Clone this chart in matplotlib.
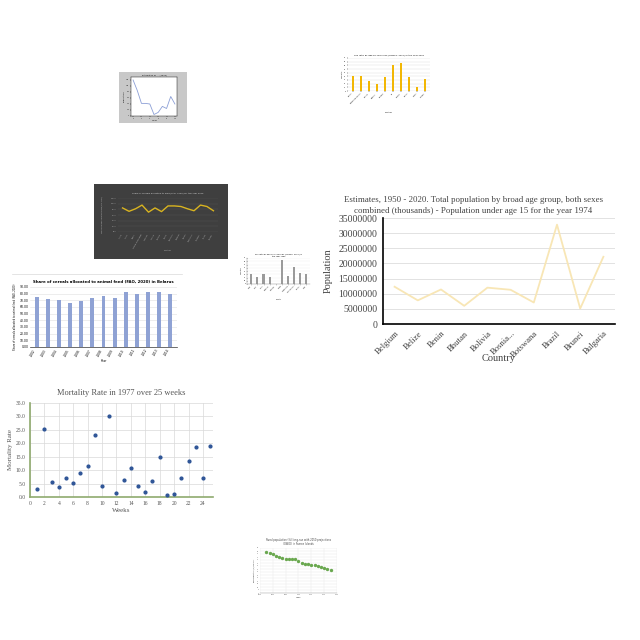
import numpy as np
import matplotlib
matplotlib.use("Agg")
import matplotlib.pyplot as plt
from matplotlib.patches import Rectangle

# chart 1 - gray box, small line
est_vals = [120, 85, 42, 42, 40, 5, 12, 32, 25, 65, 40]

# chart 2 - yellow bars (sex ratio)
sex_countries = ["Eritrea", "Equatorial Guinea", "Estonia", "Eswatini", "Ethiopia",
                 "Fiji", "Finland", "France", "Gabon", "Gambia"]
sex_vals = [42, 42, 28, 18, 37, 70, 76, 37, 11, 34]

# chart 3 - dark line chart
dark_cats = ["Albania", "Algeria", "Angola", "Antigua and Barbuda", "Argentina", "Armenia",
             "Australia", "Austria", "Azerbaijan", "Bahamas", "Bahrain", "Bangladesh",
             "Barbados", "Belarus", "Belgium"]
dark_vals = [85, 73, 82, 95, 70, 85, 72, 92, 92, 90, 82, 75, 95, 90, 75]

# chart 4 - population under 15, 1974
pop_countries = ["Belgium", "Belize", "Benin", "Bhutan", "Bolivia", "Bosnia...",
                 "Botswana", "Brazil", "Brunei", "Bulgaria"]
pop_vals = [12300000, 7800000, 11400000, 6000000, 12000000, 11300000,
            7100000, 32800000, 5100000, 22200000]

# chart 5 - Belarus cereals
bel_years = [str(y) for y in range(2002, 2015)]
bel_vals = [74.5, 72.5, 70.5, 66.5, 68.5, 74.0, 76.5, 74.0, 82.0, 79.5, 82.0, 83.0, 79.5]

# chart 6 - small gray bars
gray_countries = ["Chad", "Chile", "China", "Colombia", "Comoros", "Congo",
                  "Costa Rica", "Cote d'Ivoire", "Croatia", "Cuba"]
gray_vals = [30, 23, 30, 21, 0, 73, 24, 52, 33, 31]

# chart 7 - mortality rate
weeks = list(range(1, 26))
mort = [2.9, 25.2, 5.7, 3.9, 6.9, 5.1, 9.0, 11.6, 23.1, 4.1, 30.0, 1.5, 6.4,
        10.9, 4.2, 1.9, 5.9, 14.9, 0.9, 1.1, 7.0, 13.5, 18.7, 7.0, 19.0]

# chart 8 - rural population Faeroe Islands
rural_years = list(range(1950, 2051, 5))
rural_vals = [68, 67, 65, 62, 60, 58, 57, 56, 56, 57, 53, 50, 49, 48, 47, 46, 45, 44, 42, 40, 38]

fig = plt.figure(figsize=(6.4, 6.4), dpi=100)


def box(x0, y0, x1, y1):
    # pixel box (top-left origin) -> figure fraction
    return [x0 / 640, 1 - y1 / 640, (x1 - x0) / 640, (y1 - y0) / 640]


def bg(x0, y0, x1, y1, color):
    fig.patches.append(Rectangle((x0 / 640, 1 - y1 / 640), (x1 - x0) / 640, (y1 - y0) / 640,
                                 transform=fig.transFigure, facecolor=color, edgecolor="none",
                                 zorder=-5))


tiny = 1.6
serif = "Liberation Serif"

# ---- chart 1
bg(119, 72, 187, 123, "#c8c8c8")
ax = fig.add_axes(box(131, 77, 177, 116))
ax.plot(range(len(est_vals)), est_vals, color="#8c9fd6", lw=0.6)
ax.set_xlim(-0.5, len(est_vals) - 0.5)
ax.set_ylim(0, 130)
ax.set_title("Estimates of ... (1976)", fontsize=tiny, pad=1)
ax.set_xlabel("Year", fontsize=tiny, labelpad=1)
ax.set_ylabel("Population", fontsize=tiny, labelpad=1)
ax.tick_params(labelsize=1, length=1, width=0.3, pad=0.5)
for s in ax.spines.values():
    s.set_linewidth(0.3)

# ---- chart 2
ax = fig.add_axes(box(348, 58, 430, 91))
ax.bar(range(len(sex_vals)), sex_vals, width=0.3, color="#f2b705")
ax.set_ylim(0, 90)
ax.set_xlim(-0.6, len(sex_vals) - 0.4)
ax.set_xticks(range(len(sex_vals)))
ax.set_xticklabels(sex_countries, rotation=45, ha="right", fontsize=1.2)
ax.set_yticks(range(0, 91, 10))
ax.tick_params(labelsize=1.2, length=0.8, width=0.3, pad=0.5)
ax.grid(axis="y", color="#dddddd", lw=0.3)
ax.set_axisbelow(True)
ax.set_title("Sex ratio by age 80 year olds (UNWPP, 2017) in the year 2010", fontsize=tiny, pad=2)
ax.set_xlabel("Countries", fontsize=1.2, labelpad=6)
ax.set_ylabel("Sex ratio", fontsize=1.2, labelpad=1)
for s in ax.spines.values():
    s.set_visible(False)

# ---- chart 3
bg(94, 184, 228, 259, "#3f3f3f")
ax = fig.add_axes(box(118, 198, 218, 232))
ax.set_facecolor("#3f3f3f")
ax.plot(range(len(dark_vals)), dark_vals, color="#d9b420", lw=1.0)
ax.set_ylim(0, 120)
ax.set_yticks(range(0, 121, 20))
ax.set_yticklabels([f"{v:.2f}" for v in range(0, 121, 20)])
ax.set_xticks(range(len(dark_vals)))
ax.set_xticklabels(dark_cats, rotation=60, ha="right")
ax.tick_params(labelsize=1.2, colors="#bbbbbb", length=0, pad=1)
ax.grid(axis="y", color="#555555", lw=0.3)
ax.set_title("Share of cereals allocated to food (FAO, 2020) for the Year 2006",
             fontsize=tiny, color="#dddddd", pad=3)
ax.set_xlabel("Countries", fontsize=1.2, color="#bbbbbb", labelpad=1)
ax.set_ylabel("Share of cereals allocated to food (FAO, 2020)", fontsize=1.2,
              color="#bbbbbb", labelpad=6)
for s in ax.spines.values():
    s.set_visible(False)

# ---- chart 4
ax = fig.add_axes(box(383, 218, 615, 324))
ax.plot(range(len(pop_vals)), pop_vals, color="#f8e6b5", lw=1.3)
ax.set_xlim(-0.5, len(pop_vals) - 0.5)
ax.set_ylim(0, 35000000)
ax.set_yticks(range(0, 35000001, 5000000))
ax.set_yticklabels([str(v) for v in range(0, 35000001, 5000000)], fontfamily=serif)
ax.set_xticks(range(len(pop_vals)))
ax.set_xticklabels(pop_countries, rotation=45, ha="right", rotation_mode="anchor",
                   fontfamily=serif)
ax.tick_params(axis="y", labelsize=7, length=0, pad=4, colors="#444444")
ax.tick_params(axis="x", labelsize=6.2, length=0, pad=4, colors="#444444")
ax.grid(axis="y", color="#dddddd", lw=0.6)
ax.set_axisbelow(True)
for s in ["top", "right"]:
    ax.spines[s].set_visible(False)
for s in ["left", "bottom"]:
    ax.spines[s].set_linewidth(1.2)
ax.text(0.39, 1.03, "Estimates, 1950 - 2020. Total population by broad age group, both sexes\n"
        "combined (thousands) - Population under age 15 for the year 1974",
        transform=ax.transAxes, ha="center", va="bottom",
        fontsize=6.4, fontfamily=serif, color="#444444", linespacing=1.5)
ax.set_xlabel("Country", fontsize=7.5, fontfamily=serif, color="#444444", labelpad=-4)
ax.set_ylabel("Population", fontsize=7.5, fontfamily=serif, color="#444444", labelpad=4)

# ---- chart 5
fig.add_artist(plt.Line2D([12 / 640, 182 / 640], [1 - 274 / 640, 1 - 274 / 640],
                          transform=fig.transFigure, color="#d9d9d9", lw=0.5))
ax = fig.add_axes(box(30, 287, 177, 347))
ax.bar(range(len(bel_vals)), bel_vals, width=0.35, color="#8fa2d4")
ax.set_ylim(0, 90)
ax.set_xlim(-0.6, len(bel_vals) - 0.4)
ax.set_yticks(range(0, 91, 10))
ax.set_yticklabels([f"{v:.2f}" for v in range(0, 91, 10)])
ax.set_xticks(range(len(bel_vals)))
ax.set_xticklabels(bel_years, rotation=60, ha="right")
ax.tick_params(labelsize=2.2, length=0, pad=1)
ax.grid(axis="y", color="#e0e0e0", lw=0.4)
ax.set_axisbelow(True)
for s in ["top", "right", "left"]:
    ax.spines[s].set_visible(False)
ax.spines["bottom"].set_linewidth(0.5)
ax.spines["bottom"].set_color("#333333")
ax.set_title("Share of cereals allocated to animal feed (FAO, 2020) in Belarus",
             fontsize=2.8, fontweight="bold", pad=3)
ax.set_xlabel("Year", fontsize=2.2, labelpad=1)
ax.set_ylabel("Share of cereals allocated to animal feed (FAO, 2020)", fontsize=1.8, labelpad=2)

# ---- chart 6
ax = fig.add_axes(box(247, 258, 310, 284))
ax.bar(range(len(gray_vals)), gray_vals, width=0.35, color="#9a9a9a")
ax.set_ylim(0, 80)
ax.set_xlim(-0.7, len(gray_vals) - 0.4)
ax.set_xticks(range(len(gray_vals)))
ax.set_xticklabels(gray_countries, rotation=45, ha="right", fontsize=1.1)
ax.set_yticks(range(0, 81, 10))
ax.tick_params(labelsize=1.1, length=0.5, width=0.3, pad=0.5)
ax.grid(axis="y", color="#eeeeee", lw=0.3)
ax.set_axisbelow(True)
for s in ["top", "right"]:
    ax.spines[s].set_visible(False)
for s in ["left", "bottom"]:
    ax.spines[s].set_linewidth(0.3)
    ax.spines[s].set_color("#888888")
ax.set_title("Sex ratio by age 100 year olds (UNWPP, 2017) in\nthe year 1985",
             fontsize=1.4, pad=1)
ax.set_xlabel("Country", fontsize=1.1, labelpad=4)
ax.set_ylabel("Sex ratio", fontsize=1.1, labelpad=1)

# ---- chart 7
ax = fig.add_axes(box(30, 403, 213, 497))
ax.scatter(weeks, mort, s=4, color="#2f5597", zorder=3)
ax.set_xlim(0, 25.4)
ax.set_ylim(0, 35)
ax.set_xticks(range(0, 25, 2))
ax.set_yticks(range(0, 36, 5))
ax.set_yticklabels([f"{v:.1f}" for v in range(0, 36, 5)])
ax.tick_params(labelsize=4, length=0, pad=3, colors="#555555")
ax.grid(color="#d9d9d9", lw=0.5)
ax.set_axisbelow(True)
for lab in ax.get_xticklabels() + ax.get_yticklabels():
    lab.set_fontfamily(serif)
for s in ["top", "right"]:
    ax.spines[s].set_visible(False)
for s in ["left", "bottom"]:
    ax.spines[s].set_color("#8faa6e")
    ax.spines[s].set_linewidth(1.2)
ax.set_title("Mortality Rate in 1977 over 25 weeks", fontsize=6, fontfamily=serif,
             color="#555555", pad=6)
ax.set_xlabel("Weeks", fontsize=5, fontfamily=serif, color="#555555", labelpad=1)
ax.set_ylabel("Mortality Rate", fontsize=5, fontfamily=serif, color="#555555", labelpad=2)

# ---- chart 8
ax = fig.add_axes(box(260, 548, 337, 593))
ax.scatter(rural_years, rural_vals, s=2, color="#6aa84f", zorder=3)
ax.set_xlim(1940, 2060)
ax.set_ylim(0, 75)
ax.set_yticks(range(0, 76, 5))
ax.set_xticks(range(1940, 2061, 20))
ax.tick_params(labelsize=1.1, length=0, pad=1, colors="#666666")
ax.grid(color="#e6e6e6", lw=0.3)
ax.set_axisbelow(True)
for s in ax.spines.values():
    s.set_visible(False)
ax.spines["bottom"].set_visible(True)
ax.spines["bottom"].set_linewidth(0.3)
ax.spines["bottom"].set_color("#999999")
ax.set_title("Rural population (%) long-run with 2050 projections\n(OWID) in Faeroe Islands",
             fontsize=1.8, color="#444444", pad=2)
ax.set_xlabel("Years", fontsize=1.2, labelpad=1)
ax.set_ylabel("Rural population (%) long-run...", fontsize=1.1, labelpad=1)

fig.savefig("out.png", dpi=100, facecolor="white")
